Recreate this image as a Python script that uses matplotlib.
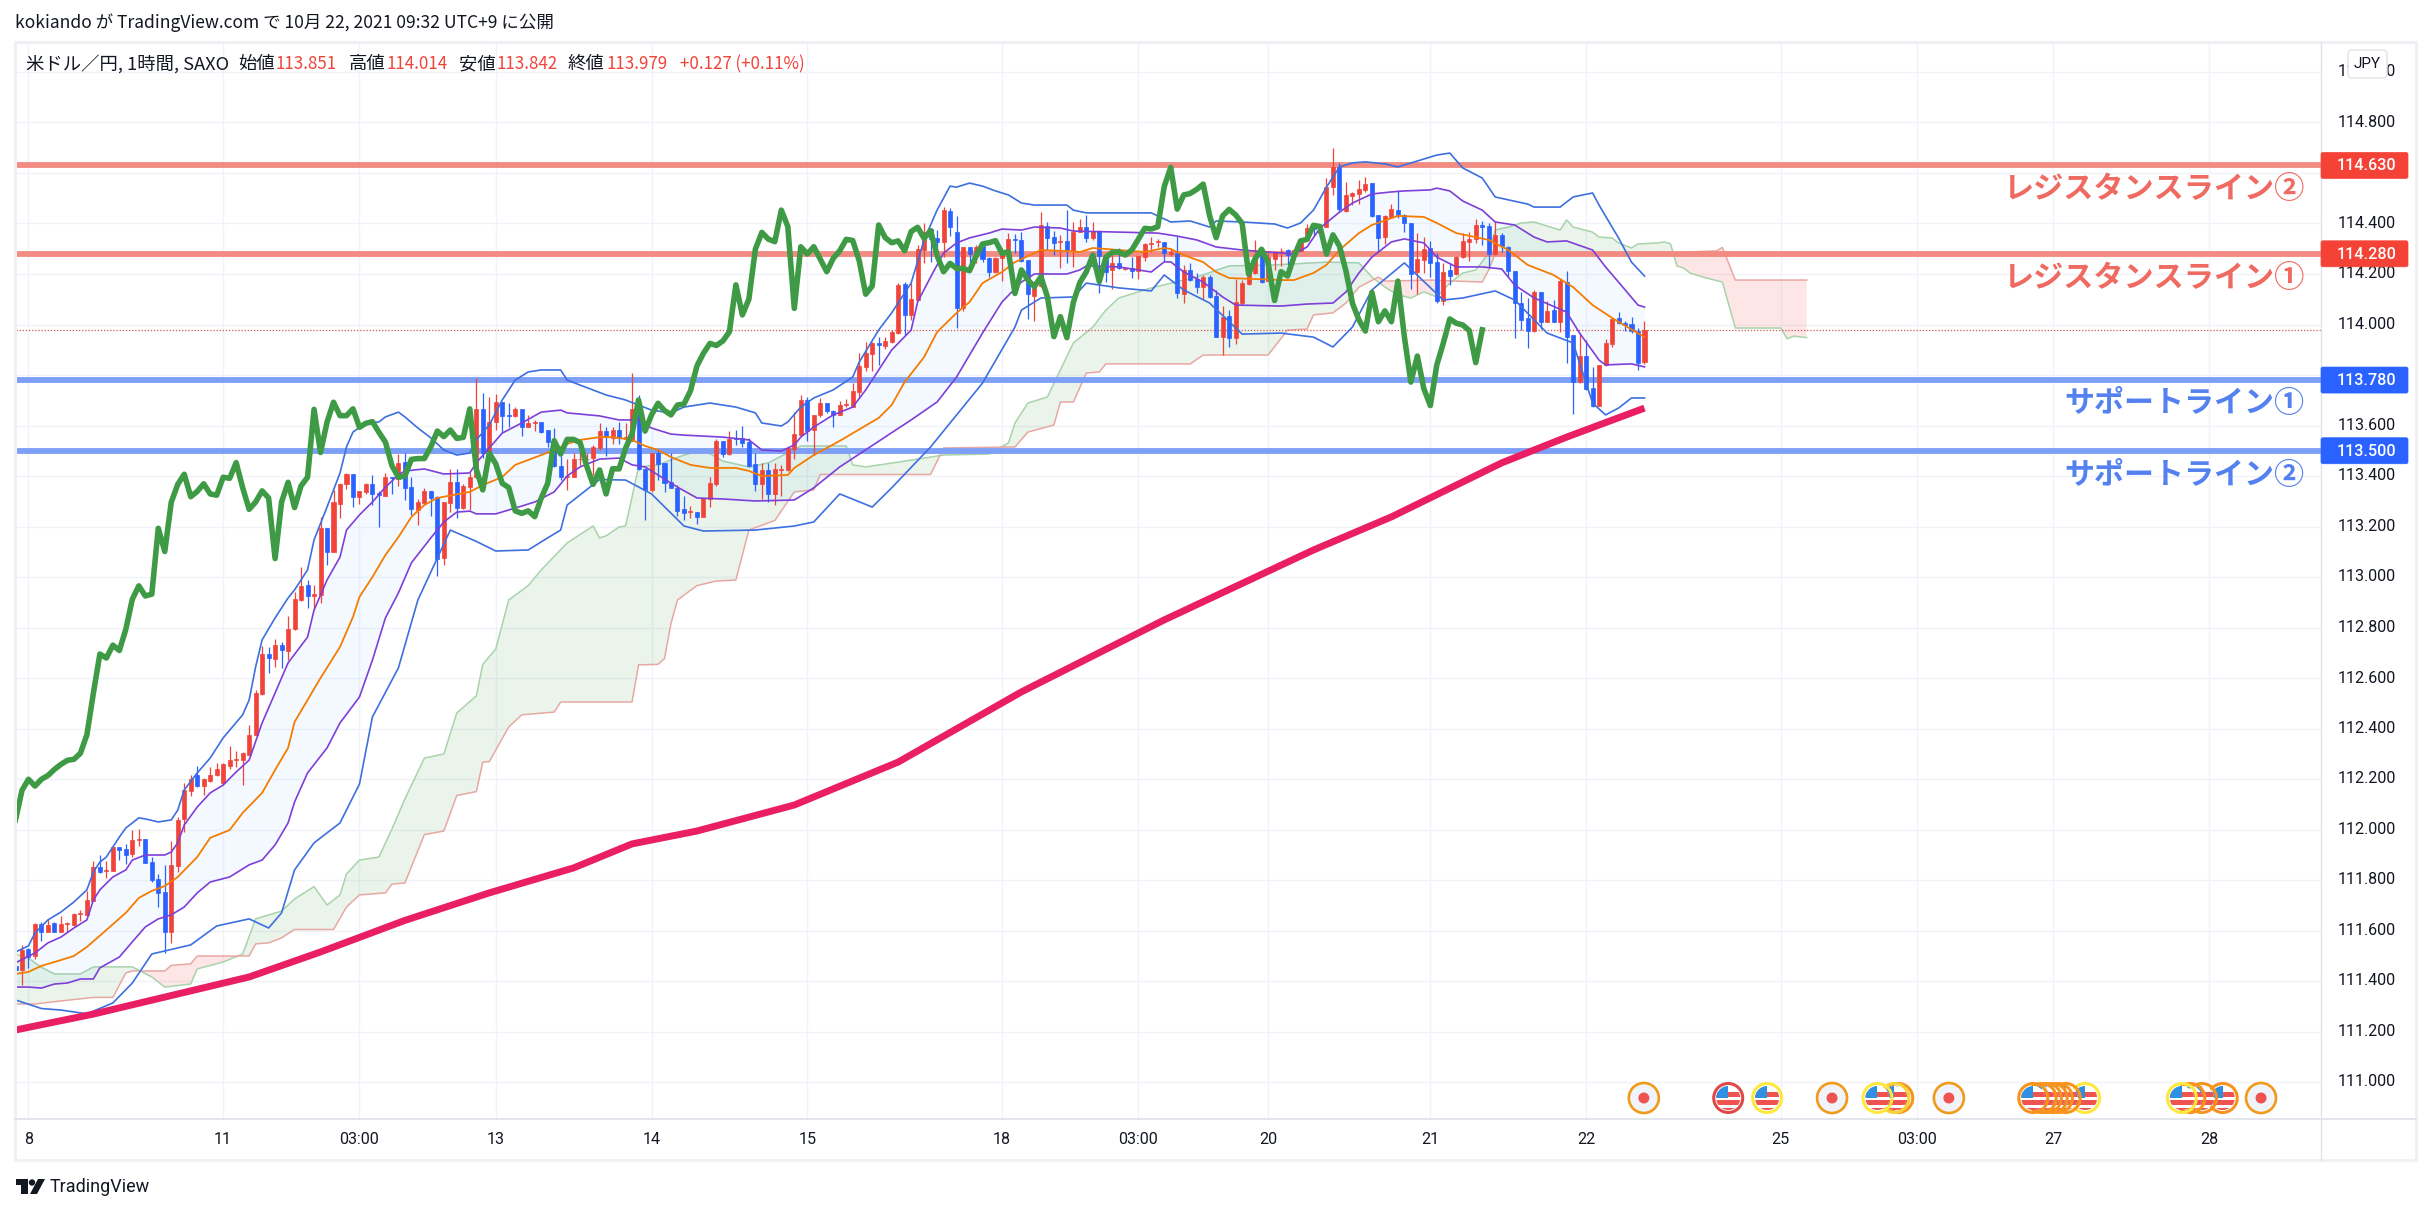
import numpy as np
import matplotlib
matplotlib.use('Agg')
import matplotlib.pyplot as plt
from matplotlib.patches import Rectangle, Circle, FancyBboxPatch, Polygon

plt.rcParams['font.family'] = ['Noto Sans CJK JP', 'DejaVu Sans']

W, H = 2431, 1213

# candles, one hour per bar
opens = [
111.459,111.444,111.527,111.499,111.624,111.595,111.628,111.595,111.624,111.620,
111.664,111.660,111.717,111.851,111.834,111.837,111.929,111.921,111.903,111.957,
111.961,111.871,111.803,111.751,111.595,111.857,112.040,112.154,112.214,112.174,
112.192,112.216,112.183,112.251,112.274,112.275,112.295,112.375,112.537,112.695,
112.677,112.730,112.707,112.793,112.909,112.967,112.926,112.929,113.193,113.101,
113.289,113.367,113.407,113.318,113.336,113.367,113.334,113.322,113.395,113.387,
113.454,113.355,113.266,113.295,113.340,113.316,113.077,113.295,113.375,113.272,
113.358,113.395,113.664,113.493,113.615,113.692,113.642,113.639,113.666,113.596,
113.609,113.613,113.582,113.540,113.440,113.397,113.397,113.466,113.466,113.473,
113.510,113.578,113.549,113.582,113.545,113.540,113.664,113.428,113.345,113.493,
113.450,113.375,113.351,113.268,113.258,113.256,113.239,113.309,113.367,113.540,
113.487,113.552,113.549,113.535,113.446,113.367,113.424,113.329,113.424,113.424,
113.507,113.564,113.701,113.582,113.642,113.688,113.659,113.642,113.680,113.675,
113.734,113.833,113.883,113.925,113.916,113.931,113.968,114.160,114.038,114.097,
114.295,114.377,114.341,114.328,114.450,114.365,114.064,114.308,114.273,114.311,
114.262,114.209,114.262,114.289,114.337,114.335,114.255,114.114,114.152,114.391,
114.345,114.325,114.331,114.292,114.368,114.385,114.341,114.372,114.275,114.216,
114.242,114.218,114.222,114.213,114.269,114.320,114.327,114.325,114.279,114.282,
114.119,114.216,114.179,114.150,114.187,114.113,113.952,114.034,113.945,114.084,
114.160,114.205,114.275,114.174,114.259,114.286,114.295,114.284,114.292,114.335,
114.385,114.361,114.387,114.546,114.622,114.451,114.510,114.515,114.533,114.559,
114.434,114.345,114.424,114.453,114.434,114.401,114.208,114.256,114.302,114.246,
114.095,114.216,114.200,114.266,114.327,114.337,114.394,114.390,114.279,114.355,
114.308,114.212,114.084,114.025,113.974,114.129,114.011,114.058,114.011,114.168,
113.959,113.772,113.875,113.747,113.679,113.840,113.923,114.025,114.007,114.001,
113.976,113.851]
closes = [
111.444,111.523,111.496,111.626,111.595,111.623,111.595,111.624,111.628,111.665,
111.668,111.721,111.850,111.833,111.840,111.929,111.920,111.899,111.958,111.962,
111.869,111.800,111.750,111.595,111.859,112.038,112.155,112.199,112.172,112.199,
112.214,112.238,112.258,112.274,112.278,112.302,112.375,112.540,112.695,112.679,
112.730,112.709,112.793,112.912,112.965,112.925,112.932,113.193,113.101,113.296,
113.367,113.407,113.318,113.339,113.369,113.329,113.324,113.395,113.391,113.453,
113.354,113.268,113.297,113.341,113.313,113.073,113.297,113.375,113.275,113.361,
113.395,113.664,113.493,113.613,113.692,113.639,113.639,113.666,113.593,113.609,
113.615,113.573,113.534,113.441,113.395,113.400,113.466,113.469,113.469,113.516,
113.578,113.556,113.582,113.549,113.553,113.666,113.427,113.345,113.490,113.448,
113.371,113.354,113.262,113.252,113.262,113.239,113.312,113.371,113.540,113.487,
113.545,113.545,113.532,113.440,113.367,113.424,113.329,113.429,113.428,113.510,
113.567,113.701,113.578,113.642,113.688,113.659,113.642,113.681,113.685,113.737,
113.836,113.886,113.925,113.917,113.935,113.971,114.157,114.038,114.100,114.298,
114.365,114.338,114.328,114.453,114.388,114.064,114.308,114.279,114.308,114.259,
114.209,114.262,114.292,114.337,114.333,114.253,114.120,114.152,114.394,114.344,
114.324,114.331,114.292,114.368,114.385,114.341,114.372,114.273,114.209,114.242,
114.222,114.222,114.213,114.271,114.319,114.324,114.332,114.282,114.288,114.123,
114.216,114.176,114.150,114.189,114.110,113.952,114.031,113.948,114.088,114.166,
114.209,114.275,114.170,114.266,114.286,114.288,114.275,114.295,114.337,114.381,
114.378,114.387,114.546,114.622,114.457,114.513,114.519,114.535,114.556,114.430,
114.344,114.430,114.456,114.434,114.401,114.200,114.260,114.298,114.245,114.095,
114.209,114.192,114.269,114.331,114.337,114.393,114.388,114.279,114.355,114.311,
114.212,114.084,114.018,113.974,114.127,114.011,114.054,114.011,114.172,113.952,
113.772,113.875,113.746,113.679,113.840,113.926,114.022,114.005,113.998,113.976,
113.849,113.979]
highs = [
111.46,111.543,111.529,111.628,111.632,111.644,111.635,111.657,111.635,111.668,
111.681,111.758,111.877,111.899,111.877,111.932,111.929,111.943,111.998,112.001,
111.961,111.892,111.824,111.859,111.954,112.048,112.183,112.216,112.251,112.203,
112.246,112.262,112.262,112.331,112.312,112.307,112.414,112.553,112.727,112.724,
112.753,112.743,112.846,112.942,113.039,112.988,112.969,113.239,113.193,113.345,
113.371,113.413,113.407,113.339,113.374,113.403,113.342,113.413,113.395,113.487,
113.490,113.395,113.308,113.351,113.340,113.321,113.297,113.427,113.429,113.369,
113.411,113.787,113.728,113.712,113.725,113.692,113.691,113.672,113.666,113.642,
113.622,113.615,113.582,113.589,113.479,113.466,113.493,113.510,113.490,113.523,
113.609,113.596,113.596,113.615,113.610,113.807,113.721,113.431,113.493,113.503,
113.450,113.490,113.364,113.321,113.281,113.256,113.312,113.395,113.545,113.540,
113.580,113.582,113.598,113.549,113.490,113.453,113.453,113.453,113.444,113.514,
113.655,113.721,113.712,113.642,113.708,113.691,113.662,113.699,113.704,113.767,
113.886,113.930,113.932,113.952,113.952,113.978,114.163,114.170,114.163,114.315,
114.401,114.381,114.374,114.464,114.460,114.430,114.308,114.308,114.315,114.328,
114.269,114.269,114.302,114.364,114.357,114.368,114.255,114.170,114.447,114.405,
114.372,114.354,114.453,114.407,114.417,114.434,114.405,114.374,114.275,114.275,
114.302,114.225,114.269,114.271,114.321,114.345,114.337,114.328,114.301,114.352,
114.236,114.242,114.203,114.196,114.196,114.137,114.073,114.057,114.179,114.176,
114.209,114.335,114.275,114.288,114.291,114.301,114.298,114.298,114.341,114.397,
114.401,114.398,114.579,114.700,114.638,114.563,114.526,114.572,114.583,114.559,
114.434,114.434,114.477,114.533,114.438,114.401,114.361,114.348,114.331,114.282,
114.242,114.242,114.272,114.361,114.368,114.417,114.411,114.403,114.411,114.364,
114.311,114.212,114.130,114.104,114.137,114.129,114.095,114.097,114.183,114.212,
113.959,113.965,113.939,113.833,113.840,113.943,114.022,114.051,114.015,114.029,
113.985,114.014]
lows = [
111.44,111.384,111.450,111.486,111.560,111.595,111.595,111.595,111.595,111.618,
111.639,111.658,111.717,111.826,111.809,111.834,111.879,111.863,111.890,111.935,
111.866,111.793,111.694,111.512,111.552,111.833,111.991,112.134,112.167,112.137,
112.187,112.213,112.176,112.240,112.246,112.176,112.295,112.375,112.533,112.619,
112.645,112.641,112.672,112.790,112.903,112.876,112.870,112.896,113.048,113.101,
113.233,113.347,113.276,113.289,113.329,113.287,113.200,113.321,113.329,113.361,
113.305,113.246,113.206,113.285,113.243,113.002,113.048,113.259,113.233,113.268,
113.266,113.391,113.470,113.450,113.582,113.569,113.596,113.635,113.560,113.593,
113.580,113.569,113.514,113.437,113.384,113.345,113.395,113.444,113.448,113.404,
113.503,113.479,113.527,113.527,113.535,113.540,113.424,113.226,113.338,113.384,
113.338,113.354,113.243,113.226,113.233,113.210,113.239,113.279,113.362,113.477,
113.483,113.523,113.514,113.437,113.342,113.308,113.299,113.285,113.321,113.421,
113.466,113.559,113.540,113.483,113.635,113.648,113.596,113.642,113.672,113.672,
113.712,113.816,113.817,113.840,113.902,113.928,113.962,113.958,114.018,114.097,
114.245,114.249,114.249,114.266,114.351,113.988,114.055,114.209,114.242,114.249,
114.189,114.205,114.174,114.282,114.282,114.249,114.021,114.015,114.150,114.295,
114.275,114.222,114.245,114.226,114.368,114.328,114.335,114.123,114.170,114.139,
114.218,114.215,114.183,114.179,114.253,114.288,114.308,114.253,114.271,114.106,
114.084,114.173,114.123,114.100,114.104,113.952,113.879,113.912,113.923,114.077,
114.156,114.200,114.166,114.174,114.216,114.232,114.236,114.269,114.292,114.332,
114.350,114.345,114.385,114.513,114.447,114.447,114.473,114.477,114.526,114.427,
114.291,114.319,114.423,114.421,114.368,114.141,114.121,114.203,114.190,114.087,
114.077,114.157,114.196,114.262,114.253,114.324,114.315,114.223,114.275,114.289,
114.190,113.948,113.978,113.908,113.969,113.982,114.010,114.011,113.972,113.849,
113.644,113.767,113.741,113.675,113.677,113.837,113.912,114.002,113.976,113.965,
113.820,113.842]

# long moving average
ma_bars = [0,12,36,47,60,73,86,95,105,120,136,155,177,200,212,229,239,251]
ma_vals = [111.206,111.269,111.416,111.515,111.640,111.749,111.848,111.943,111.994,112.097,112.267,112.545,112.830,113.107,113.238,113.452,113.554,113.669]

# bollinger +2 sigma
up2_bars = [0,2,3,5,7,9,11,12,13,14,16,17,19,20,22,24,25,26,28,30,32,35,36,37,38,40,42,43,45,46,48,50,51,52,54,56,57,59,60,62,64,66,68,70,71,73,75,77,79,81,84,85,87,91,94,98,101,103,107,111,114,115,118,119,121,123,126,129,130,133,135,138,140,142,144,145,147,149,151,153,155,157,162,163,165,170,175,178,181,184,185,189,194,196,198,200,202,204,206,208,211,213,219,221,223,226,228,233,234,238,240,243,244,246,247,249,251]
up2_vals = [111.515,111.539,111.590,111.642,111.673,111.713,111.761,111.832,111.871,111.891,111.970,112.006,112.046,112.042,112.030,112.038,112.077,112.157,112.224,112.283,112.363,112.454,112.513,112.644,112.751,112.838,112.917,112.949,113.028,113.147,113.277,113.412,113.515,113.574,113.610,113.614,113.634,113.653,113.634,113.590,113.551,113.503,113.483,113.491,113.543,113.602,113.701,113.780,113.812,113.820,113.820,113.780,113.760,113.721,113.701,113.661,113.650,113.673,113.689,113.673,113.650,113.610,113.598,113.614,113.673,113.709,113.741,113.792,113.851,113.978,114.046,114.164,114.335,114.453,114.548,114.544,114.560,114.548,114.529,114.513,114.481,114.473,114.473,114.453,114.442,114.442,114.442,114.406,114.410,114.386,114.410,114.406,114.398,114.382,114.402,114.453,114.544,114.624,114.640,114.644,114.636,114.624,114.671,114.679,114.620,114.580,114.505,114.477,114.465,114.465,114.505,114.521,114.473,114.386,114.343,114.247,114.192]

# bollinger +1 sigma
up1_bars = [0,3,5,7,9,11,12,13,15,17,18,20,23,24,25,26,28,30,32,34,36,38,40,42,45,46,48,50,51,53,55,57,59,60,63,66,70,71,73,75,78,81,84,85,90,93,96,98,101,103,106,109,113,115,118,120,121,123,126,129,131,133,135,138,139,141,143,145,147,150,152,155,157,161,163,170,176,179,182,185,189,193,197,199,201,204,206,209,212,214,218,219,221,223,226,228,231,234,236,239,243,245,247,250,251]
up1_vals = [111.472,111.511,111.551,111.574,111.610,111.642,111.721,111.761,111.812,111.840,111.879,111.899,111.899,111.911,111.947,112.018,112.089,112.145,112.176,112.228,112.275,112.422,112.541,112.660,112.762,112.869,112.988,113.079,113.186,113.246,113.297,113.356,113.404,113.420,113.428,113.408,113.412,113.452,113.511,113.570,113.610,113.653,113.661,113.650,113.638,113.622,113.622,113.590,113.566,113.562,113.558,113.554,113.543,113.503,113.499,113.523,113.554,113.594,113.642,113.673,113.741,113.820,113.899,113.978,114.089,114.188,114.283,114.323,114.343,114.362,114.378,114.374,114.386,114.382,114.370,114.366,114.362,114.350,114.335,114.307,114.295,114.287,114.279,114.307,114.382,114.445,114.481,114.517,114.525,114.529,114.533,114.540,114.529,114.489,114.453,114.406,114.394,114.346,114.327,114.331,114.295,114.228,114.168,114.077,114.069]

# bollinger middle
mid_bars = [0,2,4,7,9,11,14,17,19,21,23,25,28,30,33,35,38,40,42,43,45,47,50,52,53,55,57,59,61,63,65,70,72,75,77,81,83,85,87,90,92,95,97,99,101,104,107,111,113,115,119,120,123,127,133,135,137,140,142,145,147,149,152,154,157,158,162,164,166,170,174,177,178,180,183,185,187,191,195,197,200,202,204,207,209,213,217,219,222,227,230,233,237,240,243,246,251]
mid_vals = [111.428,111.436,111.460,111.483,111.499,111.535,111.602,111.670,111.729,111.757,111.776,111.812,111.891,111.967,111.998,112.066,112.145,112.236,112.323,112.426,112.513,112.600,112.723,112.842,112.921,113.000,113.087,113.158,113.238,113.285,113.313,113.337,113.364,113.396,113.444,113.483,113.503,113.527,113.543,113.554,113.554,113.543,113.519,113.503,113.475,113.444,113.432,113.432,113.420,113.400,113.404,113.432,113.483,113.539,113.630,113.681,113.772,113.871,113.970,114.046,114.089,114.164,114.208,114.247,114.283,114.295,114.291,114.287,114.303,114.295,114.287,114.303,114.299,114.275,114.247,114.208,114.184,114.180,114.176,114.176,114.204,114.236,114.295,114.362,114.394,114.430,114.426,114.402,114.362,114.335,114.295,114.236,114.196,114.148,114.077,114.026,113.950]

# bollinger -1 sigma
lo1_bars = [0,2,4,6,8,10,12,13,16,18,20,22,24,26,28,30,33,36,38,40,42,43,45,48,50,53,55,57,59,61,64,66,68,70,71,74,77,80,83,85,87,90,93,95,97,99,102,105,109,114,120,123,127,138,142,145,149,152,155,157,162,164,165,170,175,177,178,180,183,186,188,195,199,203,205,207,209,212,214,217,219,222,226,229,231,234,239,241,244,245,249,251]
lo1_vals = [111.376,111.376,111.372,111.388,111.392,111.408,111.408,111.452,111.495,111.555,111.614,111.646,111.662,111.693,111.749,111.792,111.812,111.860,111.879,111.939,112.026,112.109,112.224,112.323,112.422,112.525,112.671,112.838,112.937,113.056,113.155,113.218,113.257,113.261,113.250,113.250,113.273,113.297,113.337,113.400,113.436,113.467,113.471,113.444,113.436,113.404,113.356,113.313,113.309,113.301,113.305,113.353,113.436,113.622,113.693,113.792,113.966,114.089,114.168,114.200,114.200,114.216,114.232,114.228,114.208,114.248,114.248,114.208,114.168,114.109,114.077,114.073,114.081,114.085,114.129,114.204,114.267,114.327,114.339,114.323,114.267,114.228,114.228,114.220,114.156,114.105,114.049,113.966,113.859,113.840,113.844,113.832]

# bollinger -2 sigma
lo2_bars = [0,4,7,11,15,18,21,27,31,36,39,41,43,46,50,53,55,59,62,67,71,74,79,82,84,85,90,94,98,103,106,114,120,123,127,132,135,141,149,154,155,158,163,165,170,175,177,180,184,189,195,200,203,206,209,214,220,223,228,231,236,240,243,245,247,249,251]
lo2_vals = [111.325,111.291,111.285,111.270,111.313,111.392,111.507,111.543,111.618,111.646,111.610,111.670,111.840,111.947,112.026,112.180,112.446,112.640,112.909,113.186,113.141,113.103,113.107,113.155,113.186,113.285,113.386,113.384,113.329,113.202,113.182,113.186,113.202,113.218,113.329,113.277,113.353,113.515,113.768,113.990,114.057,114.105,114.109,114.164,114.145,114.133,114.196,114.137,114.085,113.962,113.966,113.950,113.911,113.990,114.137,114.244,114.097,114.105,114.133,114.097,113.966,113.927,113.689,113.642,113.669,113.709,113.709]

# ichimoku spans, run 25 bars past the last candle
span_a_bars = [0,2,4,6,10,12,18,21,23,27,28,32,35,37,41,43,46,48,50,51,53,56,58,60,63,66,68,71,72,74,76,79,81,85,89,90,91,93,94,95,96,99,103,106,109,113,116,121,128,129,131,136,143,150,153,154,156,159,161,163,166,168,170,175,182,187,194,202,207,209,211,213,215,217,219,221,223,225,227,228,230,232,234,238,239,240,243,244,246,247,249,250,253,254,255,256,257,258,260,263,265,272,273,274,276]
span_a_vals = [111.507,111.491,111.454,111.428,111.428,111.456,111.456,111.416,111.376,111.388,111.448,111.475,111.507,111.646,111.677,111.725,111.774,111.701,111.741,111.824,111.879,111.891,112.002,112.121,112.283,112.299,112.462,112.529,112.654,112.715,112.909,112.966,113.028,113.135,113.202,113.155,113.163,113.198,113.202,113.317,113.436,113.444,113.483,113.503,113.459,113.436,113.452,113.519,113.519,113.444,113.436,113.455,113.483,113.487,113.531,113.610,113.689,113.713,113.820,113.927,113.990,114.057,114.105,114.145,114.188,114.232,114.236,114.247,114.244,114.188,114.148,114.117,114.105,114.129,114.109,114.164,114.204,114.216,114.283,114.374,114.386,114.402,114.406,114.374,114.414,114.386,114.366,114.346,114.343,114.323,114.303,114.319,114.323,114.327,114.320,114.232,114.224,114.204,114.188,114.168,113.986,113.986,113.943,113.954,113.948]
span_b_bars = [0,3,7,12,15,17,18,23,24,27,28,36,37,39,41,43,49,51,53,57,58,60,63,66,68,71,72,73,76,78,83,84,95,96,99,100,101,102,105,108,111,113,117,120,123,124,141,143,154,156,160,161,163,165,167,168,181,183,193,196,199,200,203,205,207,210,211,218,226,227,228,252,262,263,265,276]
span_b_vals = [111.309,111.309,111.321,111.335,111.335,111.432,111.440,111.440,111.462,111.468,111.499,111.499,111.547,111.551,111.571,111.604,111.604,111.693,111.741,111.749,111.784,111.788,111.980,111.994,112.135,112.150,112.267,112.269,112.406,112.454,112.465,112.505,112.505,112.652,112.654,112.677,112.816,112.909,112.966,112.984,112.988,113.186,113.224,113.337,113.345,113.406,113.406,113.511,113.515,113.574,113.602,113.693,113.693,113.808,113.812,113.844,113.844,113.879,113.879,113.978,113.982,114.038,114.046,114.085,114.148,114.188,114.172,114.176,114.168,114.216,114.283,114.283,114.291,114.305,114.176,114.176]

# horizontal lines drawn on the chart
resistance_levels = [114.630, 114.280]
support_levels = [113.780, 113.500]
last_close = 113.979

# axis labels
y_ticks = [111.0 + 0.2 * k for k in range(21)]
x_tick_bars = [2, 32, 53, 74, 98, 122, 152, 173, 193, 218, 242, 272, 293, 314, 338]
x_tick_labels = ['8', '11', '03:00', '13', '14', '15', '18', '03:00', '20', '21', '22', '25', '03:00', '27', '28']

# economic calendar icons, as bar positions
event_dots = [250.9, 279.9, 297.9, 346]
event_flags = [263.9, 269.9, 290.1, 289.5, 286.9, 318.9, 315.9, 314.7, 313.9, 313, 312.2, 310.9, 340.1, 336.9, 335.1, 333.8]
event_rings = ['#e04848', '#ffe83d', '#f7941d', '#f7d23a', '#ffe83d', '#ffe83d', '#f7941d', '#f7941d', '#f7941d', '#f7941d', '#f7941d', '#f7941d', '#f7941d', '#f7941d', '#f7941d', '#ffe83d']

RED = '#f0443a'
BLUE = '#2962ff'
X0, BAR = 15.5, 6.49   # pixel of bar 0, pixels per bar


def px_rect(x0, y0, x1, y1):
    return [x0 / W, 1 - y1 / H, (x1 - x0) / W, (y1 - y0) / H]


fig = plt.figure(figsize=(W / 100, H / 100), dpi=100, facecolor='white')
ax = fig.add_axes(px_rect(15.5, 42, 2320.6, 1119))
ax.set_xlim(0, (2320.6 - X0) / BAR)
ax.set_ylim(110.8535, 115.1188)
ax.set_facecolor('white')
for s in ax.spines.values():
    s.set_visible(False)
ax.tick_params(length=0, labelbottom=False, labelleft=False)
ax.set_yticks(y_ticks)
ax.set_xticks(x_tick_bars)
ax.grid(True, color='#f0f3fa', lw=1)
ax.set_axisbelow(True)

bars = np.arange(len(closes))
opens_a, closes_a = np.array(opens), np.array(closes)
highs_a, lows_a = np.array(highs), np.array(lows)

# cloud
cloud_x = np.arange(277)
span_a = np.interp(cloud_x, span_a_bars, span_a_vals)
span_b = np.interp(cloud_x, span_b_bars, span_b_vals)
ax.fill_between(cloud_x, span_a, span_b, where=span_a >= span_b, color='#43a047', alpha=0.11, lw=0, interpolate=True, zorder=1)
ax.fill_between(cloud_x, span_a, span_b, where=span_a < span_b, color='#f44336', alpha=0.13, lw=0, interpolate=True, zorder=1)
ax.plot(span_a_bars, span_a_vals, color='#a9d3ab', lw=1.1, zorder=1.5)
ax.plot(span_b_bars, span_b_vals, color='#e7a8a3', lw=1.1, zorder=1.5)

# band between +1 and -1 sigma
band_x = np.arange(252)
ax.fill_between(band_x, np.interp(band_x, up1_bars, up1_vals), np.interp(band_x, lo1_bars, lo1_vals),
                color='#2196f3', alpha=0.05, lw=0, zorder=1.6)

# drawn levels
for lv in resistance_levels:
    ax.axhline(lv, color='#f28b82', lw=4.2, zorder=2)
for lv in support_levels:
    ax.axhline(lv, color='#7d9ff5', lw=4.2, zorder=2)
ax.axhline(last_close, color='#d0574e', lw=0.9, ls=(0, (1, 1.5)), zorder=2)

# candles
up = closes_a >= opens_a
colors = np.where(up, RED, BLUE)
ax.vlines(bars, lows_a, highs_a, colors=colors, lw=0.9, zorder=3)
body_low = np.minimum(opens_a, closes_a)
body_h = np.abs(closes_a - opens_a)
ax.bar(bars, body_h, bottom=body_low, width=0.62, color=colors, edgecolor=colors, lw=0.5, zorder=3.1)

# indicators
ax.plot(up2_bars, up2_vals, color='#3d6fe0', lw=1.2, zorder=4)
ax.plot(lo2_bars, lo2_vals, color='#3d6fe0', lw=1.2, zorder=4)
ax.plot(up1_bars, up1_vals, color='#7e3fd8', lw=1.2, zorder=4)
ax.plot(lo1_bars, lo1_vals, color='#7e3fd8', lw=1.2, zorder=4)
ax.plot(mid_bars, mid_vals, color='#f57c00', lw=1.3, zorder=4.1)
lag = 25
ax.plot(bars[:-lag], closes_a[lag:], color='#3f9a45', lw=4, zorder=4.2)
ax.plot(ma_bars, ma_vals, color='#e91e63', lw=5, zorder=4.3, solid_capstyle='butt')

# everything around the plot lives on a pixel overlay
ov = fig.add_axes([0, 0, 1, 1], zorder=5)
ov.set_xlim(0, W)
ov.set_ylim(H, 0)
ov.axis('off')
ov.patch.set_alpha(0)


def price_y(p):
    return 122.5 + (114.8 - p) * 252.5


def bar_x(b):
    return X0 + BAR * b


# frame
ov.add_patch(Rectangle((15, 42), 2401, 1118, fc='none', ec='#eff1f4', lw=2.2))
ov.plot([2320.6, 2320.6], [42, 1160], color='#e0e3eb', lw=1)
ov.plot([15, 2416], [1119, 1119], color='#e0e3eb', lw=1.3)

levels = resistance_levels + support_levels

# y tick labels, the ones under a price tag are not visible
for t in y_ticks:
    if min(abs(t - lv) for lv in levels) < 0.05:
        continue
    ov.text(2367, price_y(t), '%.3f' % t, ha='center', va='center', fontsize=11.6, color='#131722', family='Roboto', zorder=3)

# x tick labels
for b, lab in zip(x_tick_bars, x_tick_labels):
    ov.text(bar_x(b), 1139.5, lab, ha='center', va='center', fontsize=11.6, color='#131722', family='Roboto')

# level price tags
for lv in levels:
    col = '#f44336' if lv in resistance_levels else BLUE
    y = price_y(lv)
    ov.add_patch(FancyBboxPatch((2321, y - 13), 87, 26, boxstyle='round,pad=0,rounding_size=2', fc=col, ec=col, lw=0.5, zorder=4))
    ov.text(2367, y + 0.5, '%.3f' % lv, ha='center', va='center', fontsize=11.6, color='white', family='Roboto', weight='medium', zorder=5)

# JPY box over the top tick
ov.add_patch(FancyBboxPatch((2348, 50), 39, 28, boxstyle='round,pad=0,rounding_size=4', fc='white', ec='#e0e3eb', lw=1, zorder=4))
ov.text(2367.5, 64, 'JPY', ha='center', va='center', fontsize=11, color='#131722', family='Roboto', zorder=5)

# level captions
ov.text(2304, 189, 'レジスタンスライン②', ha='right', va='center', fontsize=21.7, color='#ef6a60', weight='bold')
ov.text(2304, 278, 'レジスタンスライン①', ha='right', va='center', fontsize=21.7, color='#ef6a60', weight='bold')
ov.text(2304, 403, 'サポートライン①', ha='right', va='center', fontsize=21.6, color='#5580f0', weight='bold')
ov.text(2304, 475, 'サポートライン②', ha='right', va='center', fontsize=21.6, color='#5580f0', weight='bold')

# header lines
ov.text(15, 23, 'kokiando が TradingView.com で 10月 22, 2021 09:32 UTC+9 に公開', ha='left', va='center', fontsize=12.6, color='#131722')
legend_parts = [(26, '米ドル／円, 1時間, SAXO', '#131722', 13.2), (238, '始値', '#131722', 13.2), (275.5, '113.851', RED, 12.2),
                (348.5, '高値', '#131722', 13.2), (386, '114.014', RED, 12.2), (459, '安値', '#131722', 13.2), (497, '113.842', RED, 12.2),
                (568, '終値', '#131722', 13.2), (606, '113.979', RED, 12.2), (680, '+0.127 (+0.11%)', RED, 12.2)]
for x, s, c, fs in legend_parts:
    ov.text(x, 64, s, ha='left', va='center', fontsize=fs, color=c)

# calendar icons
EVENT_Y = 1098
for b in event_dots:
    x = bar_x(b)
    ov.add_patch(Circle((x, EVENT_Y), 15, fc='#f0f3fa', ec='#f09a1a', lw=1.9, zorder=6))
    ov.add_patch(Circle((x, EVENT_Y), 5.5, fc='#ef5350', ec='none', zorder=6.1))

for k, (b, ring) in enumerate(zip(event_flags, event_rings)):
    x = bar_x(b)
    z = 6 + k * 0.01
    disc = Circle((x, EVENT_Y), 12, fc='white', ec='none', zorder=z)
    ov.add_patch(disc)
    for row in range(3):
        st = Rectangle((x - 13, EVENT_Y - 6 + row * 8), 26, 4.5, fc='#ef5350', ec='none', zorder=z)
        ov.add_patch(st)
        st.set_clip_path(disc)
    cant = Rectangle((x - 13, EVENT_Y - 13), 13, 13, fc='#2f8fe0', ec='none', zorder=z)
    ov.add_patch(cant)
    cant.set_clip_path(disc)
    ov.add_patch(Circle((x, EVENT_Y), 14.5, fc='none', ec=ring, lw=2.2, zorder=z))

# logo and wordmark
ov.add_patch(Polygon([(15.5, 1179), (28, 1179), (28, 1194), (21, 1194), (21, 1185), (15.5, 1185)], fc='#131722', ec='none'))
ov.add_patch(Circle((32, 1182.5), 3.2, fc='#131722', ec='none'))
ov.add_patch(Polygon([(38, 1179), (45, 1179), (37, 1194), (30, 1194)], fc='#131722', ec='none'))
ov.text(50, 1187.5, 'TradingView', ha='left', va='center', fontsize=13, color='#131722', family='Roboto')

fig.savefig('out.png', dpi=100, facecolor='white')
